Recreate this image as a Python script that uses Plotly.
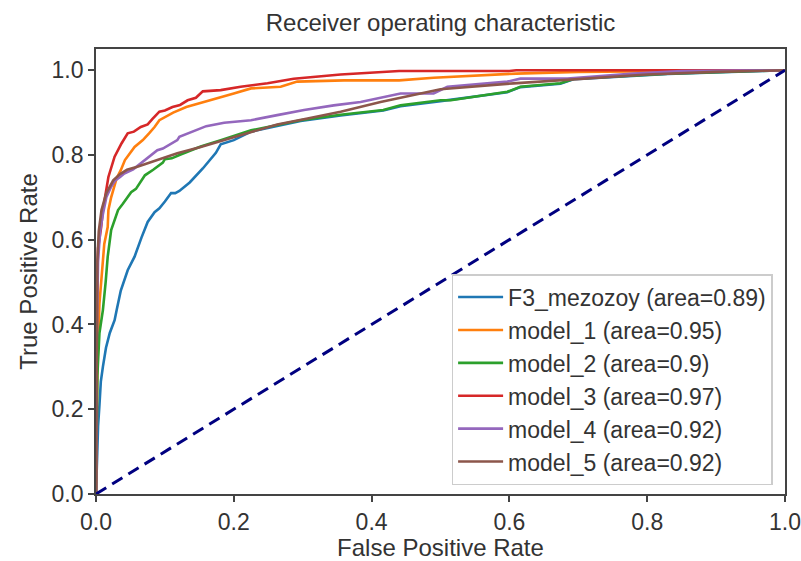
import plotly.graph_objects as go

# ROC curve points (false positive rate, true positive rate) per model
f3_fpr = [0, 0.001, 0.003, 0.005, 0.007, 0.010, 0.0145, 0.020, 0.027, 0.030, 0.036, 0.046, 0.056,
          0.066, 0.075, 0.085, 0.092, 0.100, 0.109, 0.115, 0.121, 0.136, 0.155, 0.174, 0.181, 0.200,
          0.225, 0.297, 0.355, 0.417, 0.442, 0.500, 0.597, 0.616, 0.674, 0.694, 0.830, 0.920, 1.0]
f3_tpr = [0, 0.08, 0.16, 0.21, 0.265, 0.30, 0.345, 0.38, 0.41, 0.434, 0.48, 0.528, 0.56,
          0.605, 0.642, 0.665, 0.674, 0.690, 0.710, 0.710, 0.715, 0.735, 0.768, 0.805, 0.825, 0.835,
          0.855, 0.880, 0.893, 0.905, 0.915, 0.927, 0.948, 0.960, 0.968, 0.979, 0.991, 0.996, 1.0]

m1_fpr = [0, 0.002, 0.005, 0.008, 0.012, 0.017, 0.018, 0.022, 0.030, 0.036, 0.042, 0.056, 0.068,
          0.077, 0.085, 0.092, 0.097, 0.112, 0.131, 0.140, 0.155, 0.176, 0.200, 0.225, 0.268, 0.292,
          0.360, 0.440, 0.490, 0.610, 0.700, 0.850, 0.860, 1.0]
m1_tpr = [0, 0.30, 0.45, 0.52, 0.59, 0.63, 0.67, 0.70, 0.745, 0.764, 0.788, 0.819, 0.835,
          0.851, 0.866, 0.882, 0.886, 0.900, 0.913, 0.917, 0.925, 0.933, 0.945, 0.957, 0.961, 0.973,
          0.976, 0.976, 0.982, 0.992, 0.996, 0.998, 1.0, 1.0]

m2_fpr = [0, 0.002, 0.005, 0.010, 0.014, 0.017, 0.022, 0.032, 0.039, 0.051, 0.058, 0.071, 0.083,
          0.097, 0.100, 0.110, 0.121, 0.152, 0.181, 0.225, 0.297, 0.355, 0.417, 0.442, 0.500, 0.515,
          0.597, 0.616, 0.674, 0.694, 0.830, 0.920, 1.0]
m2_tpr = [0, 0.28, 0.38, 0.434, 0.50, 0.56, 0.623, 0.67, 0.685, 0.712, 0.720, 0.752, 0.765,
          0.782, 0.790, 0.792, 0.800, 0.820, 0.835, 0.858, 0.882, 0.895, 0.906, 0.917, 0.929, 0.929,
          0.949, 0.961, 0.969, 0.980, 0.992, 0.996, 1.0]

m3_fpr = [0, 0.001, 0.003, 0.005, 0.0075, 0.010, 0.0145, 0.018, 0.027, 0.037, 0.046, 0.055, 0.065,
          0.075, 0.082, 0.092, 0.100, 0.111, 0.122, 0.133, 0.145, 0.155, 0.181, 0.210, 0.249, 0.287,
          0.355, 0.403, 0.440, 0.600, 0.610, 1.0]
m3_tpr = [0, 0.45, 0.58, 0.60, 0.63, 0.67, 0.717, 0.748, 0.796, 0.827, 0.851, 0.855, 0.866,
          0.872, 0.885, 0.902, 0.905, 0.913, 0.918, 0.929, 0.935, 0.950, 0.953, 0.961, 0.969, 0.980,
          0.990, 0.995, 0.998, 0.998, 1.0, 1.0]

m4_fpr = [0, 0.001, 0.003, 0.006, 0.010, 0.015, 0.022, 0.028, 0.035, 0.041, 0.054, 0.065, 0.073,
          0.089, 0.097, 0.118, 0.121, 0.141, 0.160, 0.186, 0.225, 0.263, 0.302, 0.345, 0.384, 0.442,
          0.490, 0.510, 0.597, 0.616, 0.684, 0.780, 0.850, 1.0]
m4_tpr = [0, 0.35, 0.55, 0.62, 0.66, 0.70, 0.725, 0.740, 0.748, 0.756, 0.766, 0.780, 0.790,
          0.811, 0.815, 0.835, 0.843, 0.855, 0.868, 0.876, 0.882, 0.894, 0.906, 0.917, 0.925, 0.945,
          0.945, 0.961, 0.973, 0.980, 0.980, 0.992, 0.998, 1.0]

m5_fpr = [0, 0.001, 0.002, 0.004, 0.008, 0.015, 0.025, 0.035, 0.045, 0.060, 0.075, 0.089, 0.118,
          0.152, 0.186, 0.220, 0.263, 0.307, 0.355, 0.413, 0.500, 0.606, 0.700, 0.800, 0.900, 1.0]
m5_tpr = [0, 0.40, 0.55, 0.62, 0.67, 0.71, 0.74, 0.755, 0.765, 0.772, 0.780, 0.788, 0.804,
          0.819, 0.835, 0.852, 0.872, 0.886, 0.902, 0.925, 0.955, 0.969, 0.980, 0.990, 0.996, 1.0]

names = ["F3_mezozoy", "model_1", "model_2", "model_3", "model_4", "model_5"]
areas = ["0.89", "0.95", "0.9", "0.97", "0.92", "0.92"]
colors = ["#1f77b4", "#ff7f0e", "#2ca02c", "#d62728", "#9467bd", "#8c564b"]
fprs = [f3_fpr, m1_fpr, m2_fpr, m3_fpr, m4_fpr, m5_fpr]
tprs = [f3_tpr, m1_tpr, m2_tpr, m3_tpr, m4_tpr, m5_tpr]

chance_x = [0, 1]
chance_y = [0, 1]
tick_vals = [0, 0.2, 0.4, 0.6, 0.8, 1.0]

FONT = "Liberation Sans, Arial, sans-serif"
TXT = "#333333"
AX = "#444444"

fig = go.Figure()
for name, area, color, fx, ty in zip(names, areas, colors, fprs, tprs):
    fig.add_trace(go.Scatter(
        x=fx, y=ty, mode="lines",
        name=f"{name} (area={area})",
        line=dict(color=color, width=2.6),
    ))

fig.add_trace(go.Scatter(
    x=chance_x, y=chance_y, mode="lines", showlegend=False,
    line=dict(color="#000080", width=3, dash="12px,7px"),
))

axis_common = dict(
    showline=True, linecolor=AX, linewidth=1.8, mirror=True,
    ticks="outside", ticklen=6, tickwidth=1.5, tickcolor=AX,
    showgrid=False, zeroline=False, automargin=False,
    tickfont=dict(family=FONT, size=23, color=TXT),
    tickformat=".1f", tickvals=tick_vals,
)

fig.update_layout(
    width=801, height=561,
    margin=dict(l=96, r=16, t=49, b=67),
    paper_bgcolor="white", plot_bgcolor="white",
    title=dict(text="Receiver operating characteristic", x=0.5, xref="paper",
               y=1 - 23 / 561, yanchor="middle",
               font=dict(family=FONT, size=24, color=TXT)),
    xaxis=dict(range=[0, 1], ticklabeloverflow="allow",
               title=dict(text="False Positive Rate", standoff=6,
                          font=dict(family=FONT, size=24, color=TXT)),
               **axis_common),
    yaxis=dict(range=[0, 1.05],
               title=dict(text="True Positive Rate", standoff=7,
                          font=dict(family=FONT, size=24, color=TXT)),
               **axis_common),
    legend=dict(
        x=0.982, y=0.02, xanchor="right", yanchor="bottom",
        bgcolor="rgba(255,255,255,0.85)", bordercolor="#cccccc", borderwidth=1.5,
        font=dict(family=FONT, size=23, color=TXT),
        itemwidth=45, tracegroupgap=0,
    ),
    showlegend=True,
)

fig.write_html("out.html")
